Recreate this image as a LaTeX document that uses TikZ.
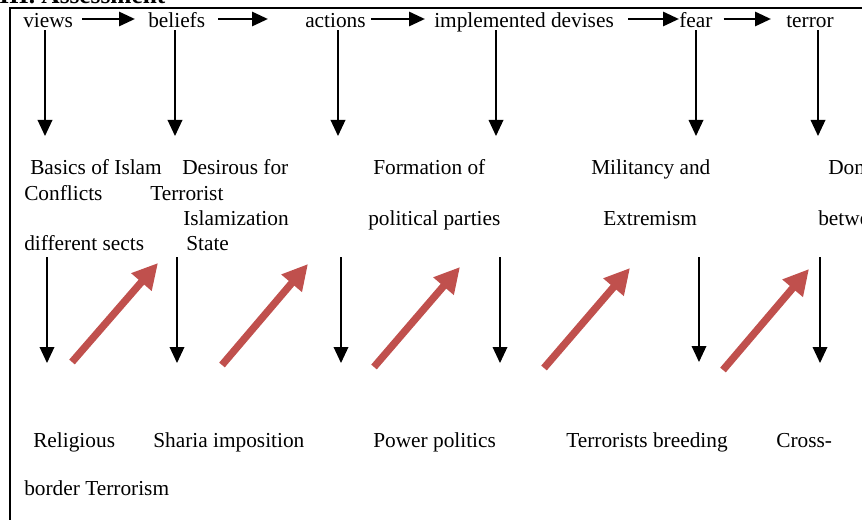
\documentclass[tikz,border=0pt]{standalone}
\usepackage{fontspec}
\setmainfont{Liberation Serif}
\usepackage{xcolor}
\usetikzlibrary{arrows.meta}
\definecolor{arrowred}{HTML}{C0504D}
\tikzset{
	lbl/.style={font=\fontsize{16}{19}\selectfont, inner sep=0pt, anchor=base west, text height=15pt, text depth=1.5pt}, % all texts
	flow/.style={line width=2.2pt, -{Triangle[length=12pt, width=10.5pt]}}, % top row arrows
	down/.style={line width=1pt, -{Triangle[length=12pt, width=11pt]}}, % vertical arrows
	rise/.style={arrowred, line width=5.5pt, -{Triangle[length=19pt, width=19pt]}}, % red arrows
}
\begin{document}
\begin{tikzpicture}[x=0.75pt, y=-0.75pt]
			\useasboundingbox (0,0) rectangle (862,520);
			\clip (0,0) rectangle (862,520);
			% Heading (cut off)
			\node[font=\fontsize{19}{22}\selectfont\bfseries, inner sep=0pt, anchor=base west] (head) at (-1,4) {III. Assessment};
			% Frame
			\draw[line width=1.9pt] (10,540) -- (10,8) -- (880,8);
			
			% Top row
			\node[lbl] (views) at (23,28) {views};
			\node[lbl] (beliefs) at (148,28) {beliefs};
			\node[lbl] (actions) at (305,28) {actions};
			\node[lbl] (devises) at (434,28) {implemented devises};
			\node[lbl] (fear) at (679,28) {fear};
			\node[lbl] (terror) at (786,28) {terror};
			
			\path
			(views) edge[flow, shorten <=6.75pt, shorten >=9.75pt] (beliefs)
			(beliefs) edge[flow, shorten <=9.75pt, shorten >=27.75pt] (actions)
			(actions) edge[flow, shorten <=3.75pt, shorten >=6.75pt] (devises)
			(devises) edge[flow, shorten <=10.5pt, shorten >=0pt] (fear)
			(fear) edge[flow, shorten <=8.25pt, shorten >=11.25pt] (terror);
			
			% Ends of the first down arrows
			\coordinate (e1) at (45,136);
			\coordinate (e2) at (175,136);
			\coordinate (e3) at (338,136);
			\coordinate (e4) at (496,136);
			\coordinate (e5) at (696,136);
			\coordinate (e6) at (818,136);
			
			\draw[down] (views.south -| e1) -- (e1);
			\draw[down] (beliefs.south -| e2) -- (e2);
			\draw[down] (actions.south -| e3) -- (e3);
			\draw[down] (devises.south -| e4) -- (e4);
			\draw[down] (fear.south -| e5) -- (e5);
			\draw[down] (terror.south -| e6) -- (e6);
			
			% Middle texts
			\node[lbl] (basics) at (30,175) {Basics of Islam};
			\node[lbl] (conflicts) at (24,200) {Conflicts};
			\node[lbl] (sects) at (24,250) {different sects};
			\node[lbl] (desirous) at (182,175) {Desirous for};
			\node[lbl] (terrorist) at (150,200) {Terrorist};
			\node[lbl] (islamization) at (183,225) {Islamization};
			\node[lbl] (state) at (186,250) {State};
			\node[lbl] (formation) at (373,175) {Formation of};
			\node[lbl] (parties) at (368,225) {political parties};
			\node[lbl] (militancy) at (591,175) {Militancy and};
			\node[lbl] (extremism) at (603,225) {Extremism};
			\node[lbl] (domestic) at (828,175) {Domestic};
			\node[lbl] (between) at (818,225) {between};
			
			% Second down arrows
			\coordinate (s1) at (47,257); \coordinate (t1) at (47,363);
			\coordinate (s2) at (177,257); \coordinate (t2) at (177,363);
			\coordinate (s3) at (341,257); \coordinate (t3) at (341,363);
			\coordinate (s4) at (500,257); \coordinate (t4) at (500,363);
			\coordinate (s5) at (699,257); \coordinate (t5) at (699,362);
			\coordinate (s6) at (820,257); \coordinate (t6) at (820,363);
			
			\draw[down] (s1) -- (t1);
			\draw[down] (s2) -- (t2);
			\draw[down] (s3) -- (t3);
			\draw[down] (s4) -- (t4);
			\draw[down] (s5) -- (t5);
			\draw[down] (s6) -- (t6);
			
			% Red arrows
			\coordinate (r1) at (72,362); \coordinate (q1) at (158,263);
			\coordinate (r2) at (222,365); \coordinate (q2) at (308,264);
			\coordinate (r3) at (374,367); \coordinate (q3) at (460,267);
			\coordinate (r4) at (544,368); \coordinate (q4) at (630,268);
			\coordinate (r5) at (723,370); \coordinate (q5) at (809,269);
			
			\draw[rise] (r1) -- (q1);
			\draw[rise] (r2) -- (q2);
			\draw[rise] (r3) -- (q3);
			\draw[rise] (r4) -- (q4);
			\draw[rise] (r5) -- (q5);
			
			% Bottom texts
			\node[lbl] (religious) at (33,447) {Religious};
			\node[lbl] (border) at (24,495) {border Terrorism};
			\node[lbl] (sharia) at (153,447) {Sharia imposition};
			\node[lbl] (power) at (373,447) {Power politics};
			\node[lbl] (breeding) at (566,447) {Terrorists breeding};
			\node[lbl] (cross) at (776,447) {Cross-};
		\end{tikzpicture}
\end{document}
